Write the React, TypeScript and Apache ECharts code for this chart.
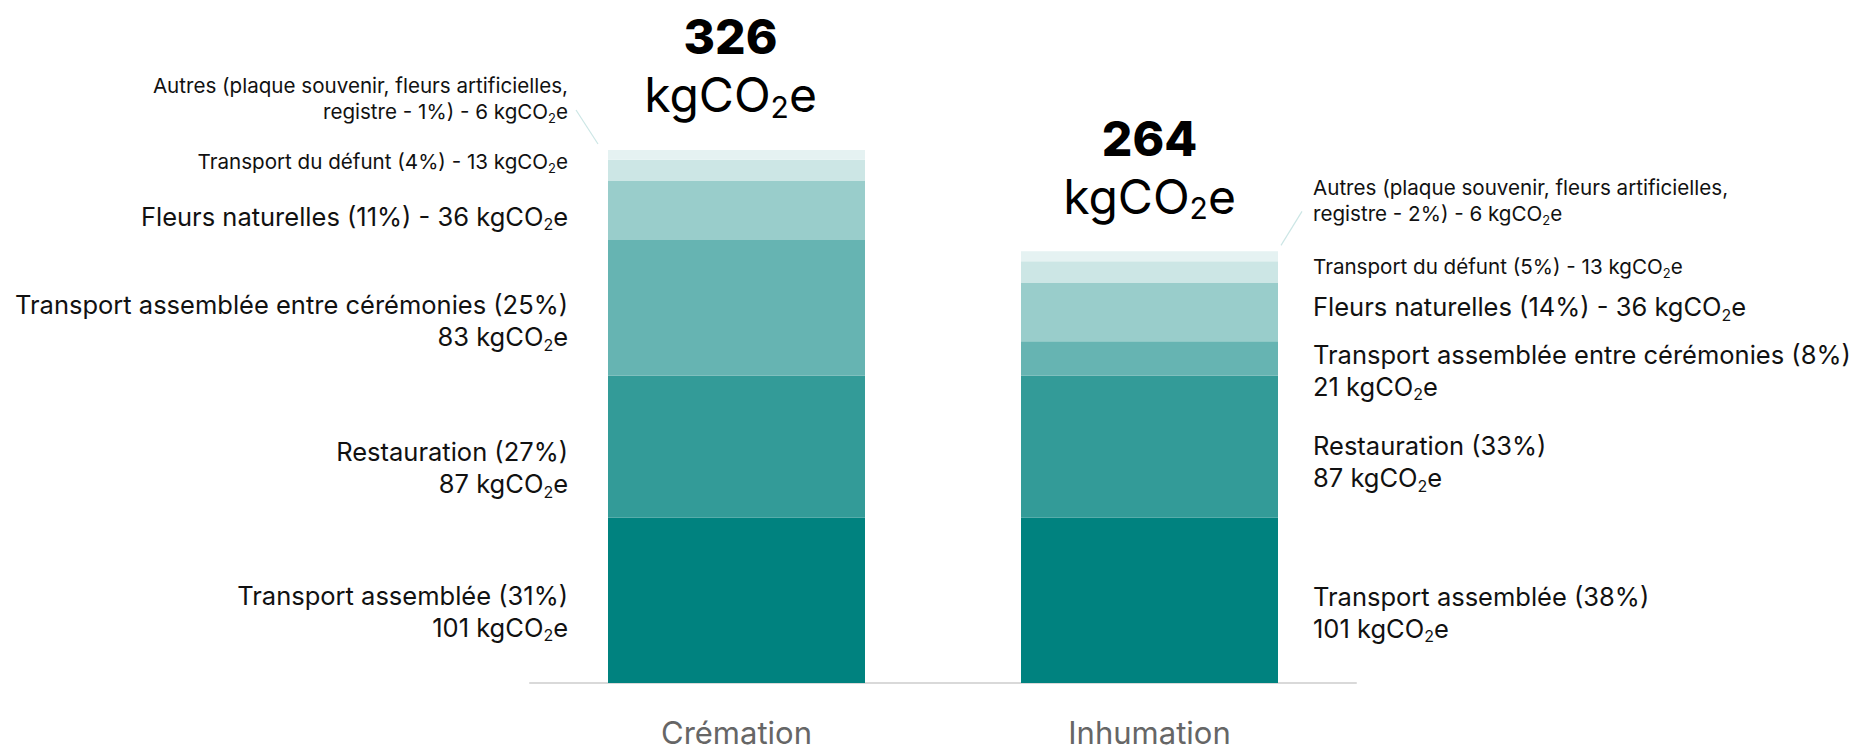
import React, { useEffect, useRef } from "react";
import * as echarts from "echarts";

const categories = ["Crémation", "Inhumation"];
const seriesNames = [
  "Transport assemblée",
  "Restauration",
  "Transport assemblée entre cérémonies",
  "Fleurs naturelles",
  "Transport du défunt",
  "Autres",
];
const transportAssemblee = [101, 101];
const restauration = [87, 87];
const transportEntreCeremonies = [83, 21];
const fleursNaturelles = [36, 36];
const transportDefunt = [13, 13];
const autres = [6, 6];

const pctTransportAssemblee = [31, 38];
const pctRestauration = [27, 33];
const pctTransportEntreCeremonies = [25, 8];
const pctFleursNaturelles = [11, 14];
const pctTransportDefunt = [4, 5];
const pctAutres = [1, 2];

// unit "kgCO₂e" written with a rich-text subscript
const unitRich = (sub: string) => `kgCO{${sub}|2}e`;

// styles / layout (not data)
const colors = ["#00827F", "#339B98", "#66B4B2", "#99CDCB", "#CCE6E5", "#E5F2F2"];
const labelDy = [
  [11, 12],
  [21, 15],
  [13, 12],
  [6, -5],
  [-9, -5],
  [-56, -56],
];
const totalDx = [-6, 0];
const FONT = "Inter, 'Noto Sans', sans-serif";

export default function App() {
  const ref = useRef<HTMLDivElement>(null);
  useEffect(() => {
    if (!ref.current) return;
    const chart = echarts.init(ref.current, null, { renderer: "svg" });
    const values = [
      transportAssemblee,
      restauration,
      transportEntreCeremonies,
      fleursNaturelles,
      transportDefunt,
      autres,
    ];
    const pcts = [
      pctTransportAssemblee,
      pctRestauration,
      pctTransportEntreCeremonies,
      pctFleursNaturelles,
      pctTransportDefunt,
      pctAutres,
    ];
    const totals = categories.map((_, c) => values.reduce((s, arr) => s + arr[c], 0));

    const labelText = (s: number, c: number) => {
      const v = values[s][c];
      const p = pcts[s][c];
      const name = seriesNames[s];
      const big = s <= 3;
      const unit = unitRich(big ? "sb" : "ss");
      if (s <= 2) return `${name} (${p}%)\n${v} ${unit}`;
      if (s <= 4) return `${name} (${p}%) - ${v} ${unit}`;
      return `Autres (plaque souvenir, fleurs artificielles,\nregistre - ${p}%) - ${v} ${unit}`;
    };

    const barWidth = 257;
    const series: any[] = values.map((arr, s) => ({
      name: seriesNames[s],
      type: "bar",
      stack: "total",
      barWidth,
      itemStyle: { color: colors[s] },
      data: arr.map((v, c) => ({
        value: v,
        label: {
          show: true,
          position: c === 0 ? "left" : "right",
          distance: c === 0 ? 40 : 35,
          offset: [0, labelDy[s][c]],
          color: "#111",
          fontFamily: FONT,
          fontSize: s >= 4 ? 20.6 : 25.5,
          lineHeight: s >= 4 ? 26 : 32,
          align: c === 0 ? "right" : "left",
          formatter: () => labelText(s, c),
          rich: {
            sb: {
              fontFamily: FONT,
              fontSize: 16,
              lineHeight: 17,
              color: "#111",
              verticalAlign: "bottom",
            },
            ss: {
              fontFamily: FONT,
              fontSize: 13,
              lineHeight: 14,
              color: "#111",
              verticalAlign: "bottom",
            },
          },
        },
      })),
    }));
    series.push({
      name: "Total",
      type: "bar",
      stack: "total",
      barWidth,
      itemStyle: { color: "transparent" },
      data: categories.map((_, c) => ({
        value: 0,
        label: {
          show: true,
          position: "top",
          distance: 28,
          offset: [totalDx[c], 0],
          formatter: () => `{b|${totals[c]}}\n{u|kgCO}{s|2}{u|e}`,
          rich: {
            b: { fontFamily: FONT, fontSize: 48, fontWeight: 800, color: "#000", lineHeight: 62 },
            u: { fontFamily: FONT, fontSize: 48, fontWeight: 400, color: "#000", lineHeight: 54 },
            s: {
              fontFamily: FONT,
              fontSize: 30,
              fontWeight: 400,
              color: "#000",
              lineHeight: 28,
              verticalAlign: "bottom",
            },
          },
        },
      })),
    });

    const option: any = {
      animation: false,
      grid: { left: 530, right: 512, top: 29, bottom: 69 },
      xAxis: {
        type: "category",
        data: categories,
        axisLine: { lineStyle: { color: "#D9D9D9", width: 2 } },
        axisTick: { show: false },
        axisLabel: {
          color: "#666",
          fontSize: 31,
          lineHeight: 30,
          margin: 34,
          fontFamily: FONT,
        },
      },
      yAxis: { type: "value", min: 0, max: 400, show: false },
      series,
    };
    chart.setOption(option);

    // leader lines for the "Autres" labels
    const lines: any[] = categories.map((_, c) => {
      const p = chart.convertToPixel({ seriesIndex: 0 }, [c, totals[c]]) as number[];
      const cornerX = c === 0 ? p[0] - barWidth / 2 : p[0] + barWidth / 2;
      const ex = c === 0 ? cornerX - 10 : cornerX + 3;
      const ey = p[1] - 6;
      const sx = c === 0 ? ex - 22 : ex + 21;
      const sy = ey - 34;
      return {
        type: "line",
        shape: { x1: sx, y1: sy, x2: ex, y2: ey },
        style: { stroke: "#CCE6E5", lineWidth: 1.2 },
        silent: true,
      };
    });
    chart.setOption({ graphic: lines });

    return () => chart.dispose();
  }, []);
  return (
    <div
      ref={ref}
      style={{ position: "absolute", left: 0, top: 0, width: 1868, height: 752, background: "#fff" }}
    />
  );
}
